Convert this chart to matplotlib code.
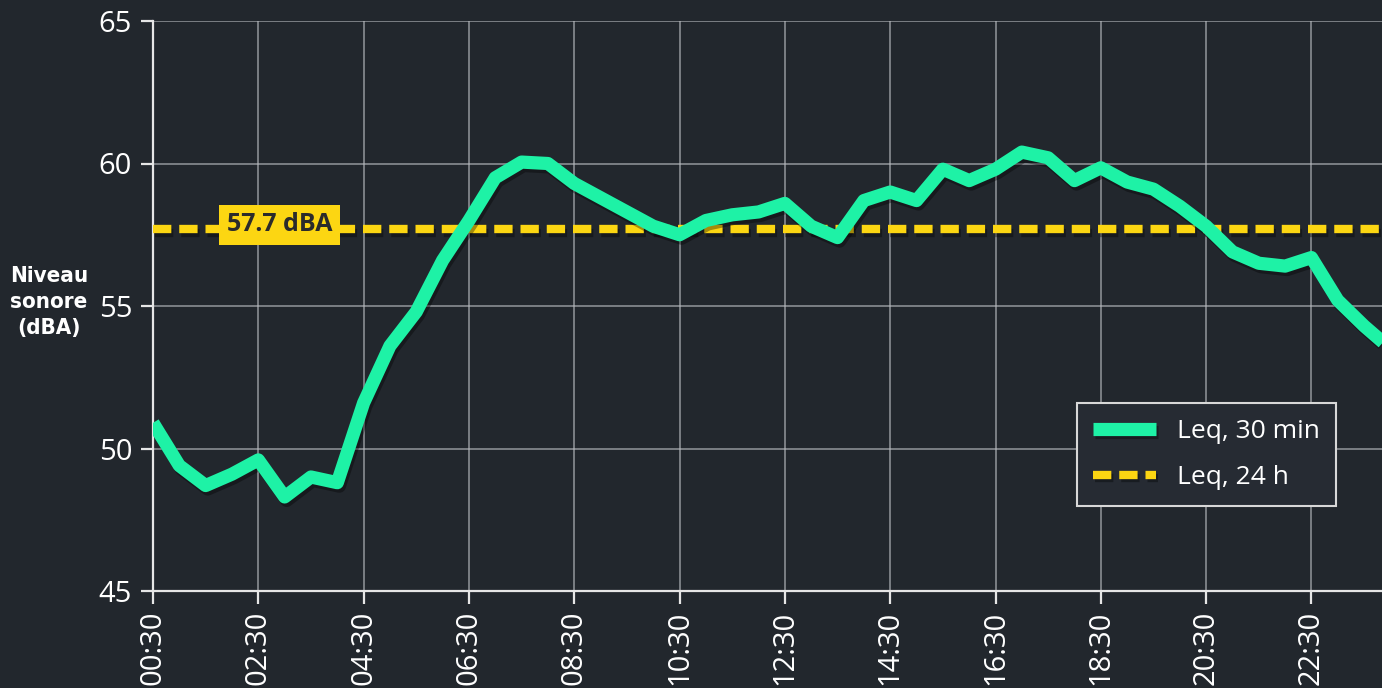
import matplotlib
matplotlib.use("Agg")
import matplotlib.pyplot as plt
import matplotlib.patheffects as pe

# ====================================================================================================
# Data: half-hourly Leq (dBA)
# ====================================================================================================

hours = [0.5, 1.0, 1.5, 2.0, 2.5, 3.0, 3.5, 4.0, 4.5, 5.0, 5.5, 6.0,
         6.5, 7.0, 7.5, 8.0, 8.5, 9.0, 9.5, 10.0, 10.5, 11.0, 11.5, 12.0,
         12.5, 13.0, 13.5, 14.0, 14.5, 15.0, 15.5, 16.0, 16.5, 17.0, 17.5, 18.0,
         18.5, 19.0, 19.5, 20.0, 20.5, 21.0, 21.5, 22.0, 22.5, 23.0, 23.5, 24.0]
leq_30min = [50.9, 49.4, 48.7, 49.1, 49.6, 48.3, 49.0, 48.8, 51.6, 53.6, 54.8, 56.6,
             58.0, 59.5, 60.05, 60.0, 59.3, 58.8, 58.3, 57.8, 57.5, 58.0, 58.2, 58.3,
             58.6, 57.8, 57.4, 58.7, 59.0, 58.7, 59.8, 59.4, 59.8, 60.4, 60.2, 59.4,
             59.85, 59.35, 59.1, 58.5, 57.8, 56.9, 56.5, 56.4, 56.7, 55.2, 54.3, 53.5]
leq_24h = 57.7

tick_hours = [0.5, 2.5, 4.5, 6.5, 8.5, 10.5, 12.5, 14.5, 16.5, 18.5, 20.5, 22.5]
tick_labels = ["00:30", "02:30", "04:30", "06:30", "08:30", "10:30",
               "12:30", "14:30", "16:30", "18:30", "20:30", "22:30"]
y_ticks = [45, 50, 55, 60, 65]

# ====================================================================================================
# Style
# ====================================================================================================

BG = "#22272d"
GREEN = "#1ef2a6"
YELLOW = "#fcd612"
GRID = "#b9bcc0"
FONT = ["Open Sans", "DejaVu Sans"]

plt.rcParams['font.family'] = FONT

fig = plt.figure(figsize=(13.82, 6.88), dpi=100, facecolor=BG)
ax = fig.add_axes([153/1382, 97/688, 1229/1382, 570/688])
ax.set_facecolor(BG)

ax.set_xlim(0.5, 23.84)
ax.set_ylim(45, 65)

# grid + spines
ax.grid(True, color=GRID, linewidth=1.1, alpha=0.75)
ax.set_axisbelow(True)
for side in ["top", "right"]:
    ax.spines[side].set_visible(False)
for side in ["left", "bottom"]:
    ax.spines[side].set_color("#e6e6e6")
    ax.spines[side].set_linewidth(1.6)

ax.set_xticks(tick_hours)
ax.set_xticklabels(tick_labels, rotation=90, va="top")
ax.set_yticks(y_ticks)
ax.tick_params(axis="both", colors="#e6e6e6", labelcolor="white", labelsize=21,
               length=9, width=1.6, direction="out")
ax.tick_params(axis="y", pad=6)
ax.tick_params(axis="x", pad=5)
for lbl in ax.get_xticklabels() + ax.get_yticklabels():
    lbl.set_fontweight("medium")

# lines
shadow = [pe.SimpleLineShadow(offset=(1.5, -2.5), shadow_color="black", alpha=0.35), pe.Normal()]
ax.axhline(leq_24h, color=YELLOW, linewidth=6, dashes=(2.2, 0.95), dash_capstyle="butt",
           label="Leq, 24 h", zorder=3, path_effects=shadow)
ax.plot(hours, leq_30min, color=GREEN, linewidth=9.5, solid_joinstyle="round",
        solid_capstyle="butt", label="Leq, 30 min", zorder=4, path_effects=shadow)

# 24h value tag
ax.text(2.90, leq_24h + 0.15, f"{leq_24h} dBA", ha="center", va="center",
        fontsize=18, fontweight="bold", color="#2b2b2b", zorder=5,
        bbox=dict(boxstyle="square,pad=0.3", facecolor=YELLOW, edgecolor="none"))

# y label
fig.text(49/1382, 1 - 302/688, "Niveau\nsonore\n(dBA)", ha="center", va="center",
         color="white", fontsize=16, fontweight="bold", fontstretch="condensed",
         linespacing=1.4, family=["DejaVu Sans"])

# legend
handles, labels = ax.get_legend_handles_labels()
leg = ax.legend(handles[::-1], labels[::-1], loc="upper right",
                bbox_to_anchor=((1336 - 153) / 1229, (591 - 403) / 570),
                borderaxespad=0, fontsize=19, frameon=True, fancybox=False, shadow=False,
                handlelength=2.4, borderpad=0.6, labelspacing=0.8, handletextpad=0.8)
leg.get_frame().set_facecolor("#262b33")
leg.get_frame().set_edgecolor("#d8d8d8")
leg.get_frame().set_linewidth(1.5)
leg.get_frame().set_alpha(1)
for t in leg.get_texts():
    t.set_color("white")

fig.savefig("out.png", dpi=100, facecolor=BG)
